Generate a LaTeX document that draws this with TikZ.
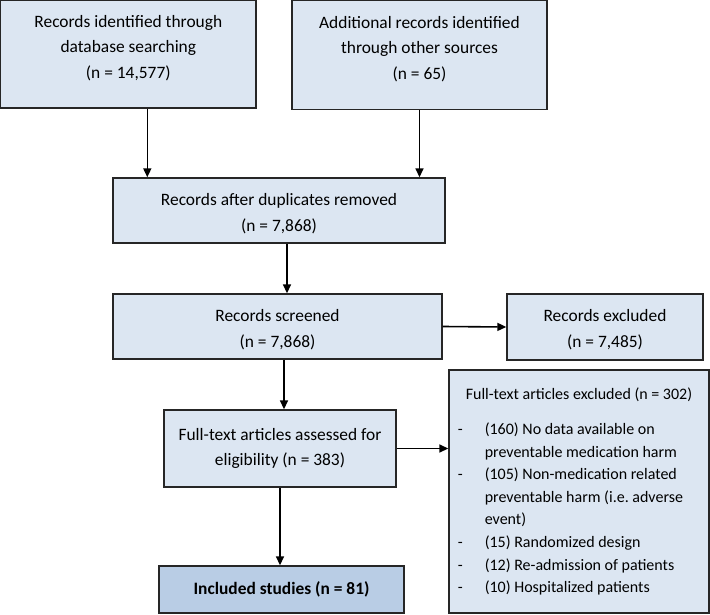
\documentclass[tikz,border=0pt]{standalone}
\usepackage{fontspec}
\setmainfont{Carlito}
\usetikzlibrary{arrows.meta}
\definecolor{boxblue}{HTML}{DCE6F2}
\definecolor{incblue}{HTML}{B9CDE5}

\begin{document}
\begin{tikzpicture}[x=1pt,y=-1pt]
        \tikzstyle{every node}=[draw=black!85, fill=boxblue, line width=1.4pt, align=center, inner sep=0pt, font=\fontsize{17.4}{25.5}\selectfont]
        \tikzstyle{arr}=[-{Triangle[length=9pt,width=8pt]}, line width=1.6pt]
        \useasboundingbox (0,0) rectangle (710,615);

        \node (ident)  at (128.3,54.3) [minimum width=255.5, minimum height=107.5, text depth=15pt] {Records identified through\\database searching\\(n = 14,577)};
        \node (other)  at (419.5,55.3) [minimum width=255, minimum height=109, text depth=15pt] {Additional records identified\\through other sources\\(n = 65)};
        \node (dup)    at (279,210.5)  [minimum width=332, minimum height=65, text height=43.5pt] {Records after duplicates removed\\(n = 7,868)};
        \node (screen) at (277.5,326.5) [minimum width=329, minimum height=65, text height=43.5pt] {Records screened\\(n = 7,868)};
        \node (excl1)  at (605,327)    [minimum width=196, minimum height=66, text height=42.5pt] {Records excluded\\(n = 7,485)};
        \node (full)   at (280,448.5)  [minimum width=232, minimum height=77] {Full-text articles assessed for\\eligibility (n = 383)};
        \node (excl2)  at (579,491.5)  [minimum width=260, minimum height=243, font=\fontsize{16}{22.6}\selectfont\frenchspacing] {%
            \begin{tabular}{@{}p{27pt}@{}l@{}}
            \multicolumn{2}{@{\hspace{8pt}}l@{}}{Full-text articles excluded (n = 302)}\\[12.4pt]
            - & (160) No data available on\\
              & preventable medication harm\\
            - & (105) Non-medication related\\
              & preventable harm (i.e. adverse\\
              & event)\\
            - & (15) Randomized design\\
            - & (12) Re-admission of patients\\
            - & (10) Hospitalized patients
            \end{tabular}\hspace*{8pt}};
        \node (incl)   at (281.5,589.5) [minimum width=245, minimum height=47, fill=incblue, font=\fontsize{17.4}{25.5}\selectfont\bfseries] {Included studies (n = 81)};

        \draw[arr] ([xshift=19pt]ident.south) -- ([xshift=19pt]ident.south |- dup.north);
        \draw[arr] (other.south) -- (other.south |- dup.north);
        \draw[arr] ([xshift=8pt]dup.south) -- ([xshift=8pt]dup.south |- screen.north);
        \draw[arr] (screen.east) -- (excl1.west);
        \draw[arr] ([xshift=4pt]full.north |- screen.south) -- ([xshift=4pt]full.north);
        \draw[arr] (full.east) -- (full.east -| excl2.west);
        \draw[arr] (full.south) -- (full.south |- incl.north);

    \end{tikzpicture}
\end{document}
